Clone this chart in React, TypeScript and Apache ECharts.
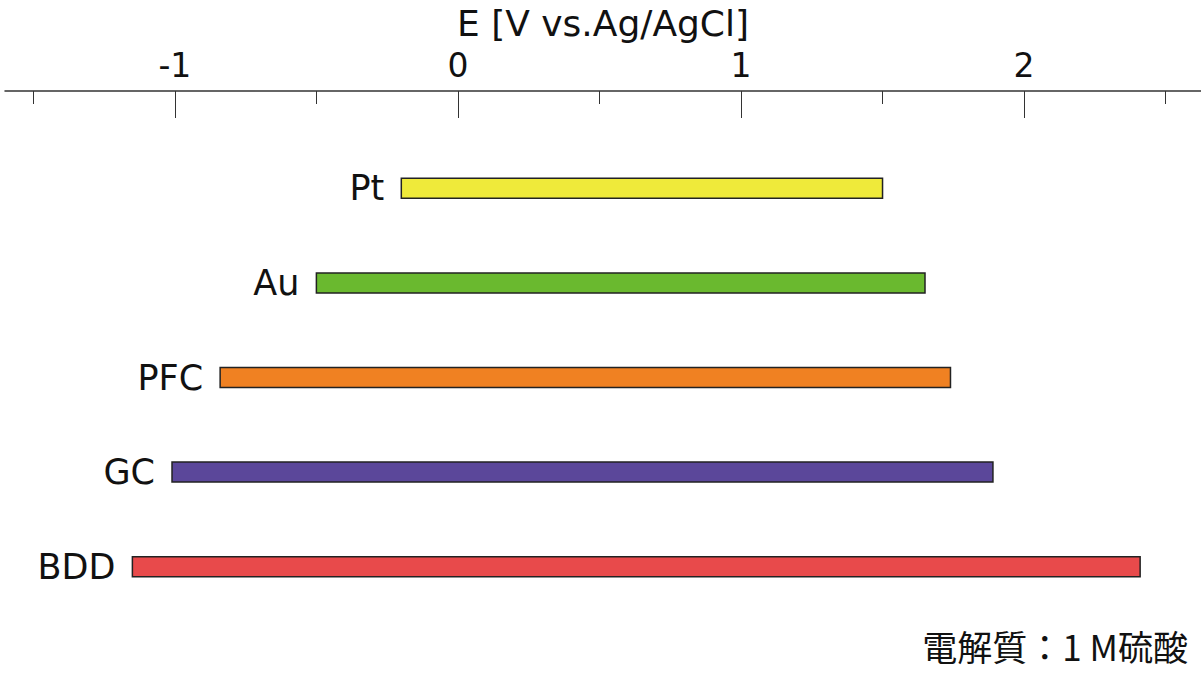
import React, { useEffect, useRef } from "react";
import * as echarts from "echarts";

const electrodes = ["Pt", "Au", "PFC", "GC", "BDD"];
const windowStart = [-0.2, -0.5, -0.84, -1.01, -1.15];
const windowEnd = [1.5, 1.65, 1.74, 1.89, 2.41];
const barColors = ["#EFEA3A", "#6AB92F", "#F08122", "#5B479A", "#E84A4B"];
const majorTicks = [-1, 0, 1, 2];
const minorTicks = [-1.5, -0.5, 0.5, 1.5, 2.5];
const axisTitle = "E [V vs.Ag/AgCl]";
const noteText = "電解質：1 M硫酸";

const LATIN = "'DejaVu Sans', 'Noto Sans CJK JP', sans-serif";

export default function App() {
  const ref = useRef<HTMLDivElement>(null);
  useEffect(() => {
    if (!ref.current) return;
    const chart = echarts.init(ref.current, null, { renderer: "svg" });
    const data = electrodes.map((name, i) => ({
      value: [i, windowStart[i], windowEnd[i]],
      name,
      itemStyle: { color: barColors[i] },
    }));
    const common = {
      type: "value",
      position: "top",
      min: -1.6,
      max: 2.625,
      offset: 50,
      splitLine: { show: false },
    };
    chart.setOption({
      animation: false,
      backgroundColor: "#ffffff",
      grid: { left: 5, right: 0, top: 141, height: 473, containLabel: false },
      xAxis: [
        {
          ...common,
          name: axisTitle,
          nameLocation: "middle",
          nameGap: 50,
          nameTextStyle: { fontFamily: LATIN, fontSize: 36, color: "#111" },
          axisLine: { show: true, lineStyle: { color: "#333", width: 1.5 } },
          axisTick: {
            show: true,
            inside: true,
            length: 27,
            customValues: majorTicks,
            lineStyle: { color: "#333", width: 1 },
          },
          axisLabel: {
            show: true,
            customValues: majorTicks,
            margin: 9,
            fontFamily: LATIN,
            fontSize: 33,
            color: "#111",
          },
        },
        {
          ...common,
          axisLine: { show: false },
          axisTick: {
            show: true,
            inside: true,
            length: 13,
            customValues: minorTicks,
            lineStyle: { color: "#333", width: 1 },
          },
          axisLabel: { show: false },
        },
      ],
      yAxis: {
        type: "category",
        data: electrodes,
        inverse: true,
        show: false,
      },
      graphic: [
        {
          type: "text",
          right: 13,
          top: 628,
          style: {
            text: noteText,
            font: "35px 'Noto Sans CJK JP', sans-serif",
            fill: "#111",
          },
        },
      ],
      series: [
        {
          type: "custom",
          xAxisIndex: 0,
          encode: { x: [1, 2], y: 0 },
          data,
          renderItem: (params: any, api: any) => {
            const idx = api.value(0);
            const s = api.coord([api.value(1), idx]);
            const e = api.coord([api.value(2), idx]);
            const h = 20;
            return {
              type: "group",
              children: [
                {
                  type: "rect",
                  shape: { x: s[0], y: s[1] - h / 2, width: e[0] - s[0], height: h },
                  style: {
                    fill: barColors[params.dataIndex],
                    stroke: "#222",
                    lineWidth: 1.5,
                  },
                },
                {
                  type: "text",
                  x: s[0] - 17,
                  y: s[1],
                  style: {
                    text: electrodes[params.dataIndex],
                    font: `35px ${LATIN}`,
                    fill: "#111",
                    align: "right",
                    verticalAlign: "middle",
                  },
                },
              ],
            };
          },
        },
      ],
    });
    return () => chart.dispose();
  }, []);
  return (
    <div
      ref={ref}
      style={{ position: "fixed", left: 0, top: 0, width: 1201, height: 681 }}
    />
  );
}
